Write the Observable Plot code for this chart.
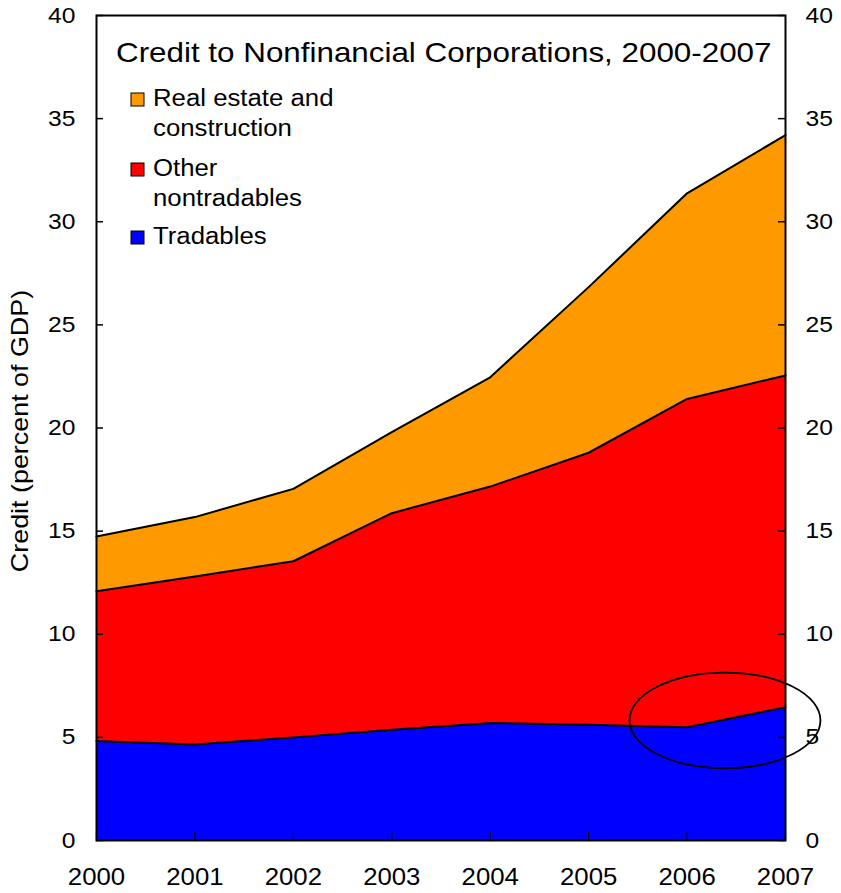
<!DOCTYPE html>
<html>
<head>
<meta charset="utf-8">
<script src="https://cdn.jsdelivr.net/npm/d3@7"></script>
<script src="https://cdn.jsdelivr.net/npm/@observablehq/plot@0.6"></script>
<style>
  html, body { margin: 0; padding: 0; background: #fff; }
  #chart svg { display: block; }
</style>
</head>
<body>
<div id="chart"></div>
<script>
// ---- Data ----
const years = [2000, 2001, 2002, 2003, 2004, 2005, 2006, 2007];
const tradables = [4.82, 4.65, 5.0, 5.37, 5.7, 5.61, 5.49, 6.46];
const otherNontradables = [7.27, 8.15, 8.54, 10.5, 11.46, 13.19, 15.92, 16.09];
const realEstate = [2.65, 2.88, 3.51, 3.93, 5.3, 8.03, 9.97, 11.65];

const seriesNames = ["Tradables", "Other nontradables", "Real estate and construction"];
const seriesColors = ["#0000FF", "#FF0000", "#FF9900"];

const yTicks = [0, 5, 10, 15, 20, 25, 30, 35, 40];
const xTicks = years;

const titleText = "Credit to Nonfinancial Corporations, 2000-2007";
const yLabelText = "Credit (percent of GDP)";
const legendLines = [
  ["Real estate and", "construction"],
  ["Other", "nontradables"],
  ["Tradables"]
];
const legendColors = ["#FF9900", "#FF0000", "#0000FF"];

// annotation ellipse (data units)
const noteCenterX = 2006.39;
const noteCenterY = 5.8;
const noteRadiusX = 0.97;
const noteRadiusY = 2.32;

// ---- Table for the library ----
const seriesValues = [tradables, otherNontradables, realEstate];
const data = seriesNames.flatMap((s, i) =>
  years.map((yr, j) => ({year: yr, series: s, value: seriesValues[i][j]}))
);

const W = 841, H = 893;
const mL = 96, mR = 56, mT = 15, mB = 53;
const pw = W - mL - mR, ph = H - mT - mB;
const FONT = "'Liberation Sans', Arial, Helvetica, sans-serif";
const stretch = 1.12;

const stackOpts = {x: "year", y: "value", z: "series", order: seriesNames};

const chart = Plot.plot({
  width: W,
  height: H,
  marginLeft: mL,
  marginRight: mR,
  marginTop: mT,
  marginBottom: mB,
  style: {fontFamily: FONT, fontSize: "22px", background: "white", color: "black", overflow: "visible"},
  x: {domain: [2000, 2007]},
  y: {domain: [0, 40]},
  color: {domain: seriesNames, range: seriesColors},
  marks: [
    Plot.areaY(data, {...stackOpts, fill: "series"}),
    Plot.lineY(data, Plot.stackY2({...stackOpts, stroke: "black", strokeWidth: 2})),
    Plot.tickY(yTicks, {y: d => d, insetRight: pw - 7, stroke: "black", strokeWidth: 1.5}),
    Plot.tickY(yTicks, {y: d => d, insetLeft: pw - 7, stroke: "black", strokeWidth: 1.5}),
    Plot.tickX(xTicks, {x: d => d, insetTop: ph - 8, stroke: "black", strokeWidth: 1.2}),
    Plot.frame({stroke: "black", strokeWidth: 2}),
    Plot.axisY({ticks: yTicks, anchor: "left", tickSize: 0, tickPadding: 21, label: null, fontSize: 22}),
    Plot.axisY({ticks: yTicks, anchor: "right", tickSize: 0, tickPadding: 20, label: null, fontSize: 22}),
    Plot.axisX({ticks: xTicks, tickFormat: "d", anchor: "bottom", tickSize: 0, tickPadding: 28, label: null, fontSize: 23})
  ]
});

document.getElementById("chart").appendChild(chart);

const svg = d3.select(chart);
const sx = chart.scale("x");
const sy = chart.scale("y");

// annotation ellipse
const cx = sx.apply(noteCenterX), cy = sy.apply(noteCenterY);
svg.append("ellipse")
  .attr("cx", cx).attr("cy", cy)
  .attr("rx", Math.abs(sx.apply(noteCenterX + noteRadiusX) - cx))
  .attr("ry", Math.abs(sy.apply(noteCenterY + noteRadiusY) - cy))
  .attr("fill", "none").attr("stroke", "black").attr("stroke-width", 1.8);

// title
svg.append("text")
  .attr("x", 116).attr("y", 62)
  .attr("text-anchor", "start")
  .attr("font-family", FONT).attr("font-size", 28).attr("fill", "black")
  .text(titleText);

// legend
const baselines = [[106, 136], [176, 206], [244]];
legendLines.forEach((lines, i) => {
  const b0 = baselines[i][0];
  svg.append("rect")
    .attr("x", 131).attr("y", b0 - 13).attr("width", 13).attr("height", 13)
    .attr("fill", legendColors[i]).attr("stroke", "black").attr("stroke-width", 1);
  lines.forEach((ln, k) => {
    svg.append("text")
      .attr("x", 153).attr("y", baselines[i][k])
      .attr("text-anchor", "start")
      .attr("font-family", FONT).attr("font-size", 23).attr("fill", "black")
      .text(ln);
  });
});

// y-axis title
svg.append("text")
  .attr("transform", "translate(28,431) rotate(-90)")
  .attr("text-anchor", "middle")
  .attr("font-family", FONT).attr("font-size", 24).attr("fill", "black")
  .text(yLabelText);

// widen text to match the reference's wider letterforms
chart.querySelectorAll("text").forEach(el => {
  if (el.querySelector("tspan")) return;
  const len = el.getComputedTextLength();
  if (len > 0) {
    el.setAttribute("textLength", (len * stretch).toFixed(1));
    el.setAttribute("lengthAdjust", "spacingAndGlyphs");
  }
});
</script>
</body>
</html>
